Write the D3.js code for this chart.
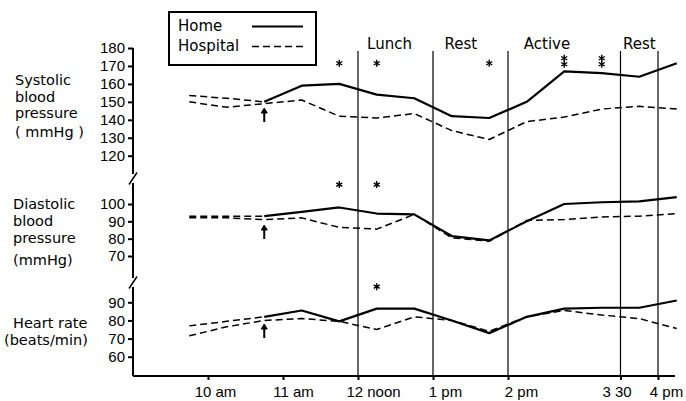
<!DOCTYPE html>
<html>
<head>
<meta charset="utf-8">
<script src="https://cdn.jsdelivr.net/npm/d3@7"></script>
<style>
  body { margin: 0; background: #fff; }
  svg { display: block; }
  text { font-family: "DejaVu Sans", sans-serif; font-size: 15px; fill: #000; }
  .num { font-family: "Liberation Sans", Arial, sans-serif; font-size: 15px; }
  .title { font-size: 14.5px; }
</style>
</head>
<body>
<div id="chart"></div>
<script>
// time of day in hours, readings every half hour
var times = [9.75, 10.25, 10.75, 11.25, 11.75, 12.25, 12.75, 13.25, 13.75, 14.25, 14.75, 15.25, 15.75, 16.25];

// systolic (mmHg)
var sysHospital = [150, 147, 149, 151, 142, 141, 143.5, 134, 129, 139, 141.5, 146, 147.5, 146];
var sysHome = [null, null, 150, 159, 160, 154, 152, 142, 141, 150, 167, 166, 164, 171.5];
var sysHomeBefore = [153.5, 152, 150, null, null, null, null, null, null, null, null, null, null, null];

// diastolic (mmHg)
var diaHospital = [92, 92, 91, 92, 86.5, 85.5, 94, 80.5, 78.5, 90.5, 91, 92.5, 93, 94.5];
var diaHome = [null, null, 93, 95.5, 98, 94.5, 94, 81.5, 79, 90, 100, 101, 101.5, 104];
var diaHomeBefore = [93, 93, 93, null, null, null, null, null, null, null, null, null, null, null];

// heart rate (beats/min)
var hrHospital = [71.5, 76.5, 80, 81, 79.5, 75, 82, 80, 74, 82, 85.5, 83, 81, 75.5];
var hrHome = [null, null, 82, 85.5, 79.5, 86.5, 86.5, 80, 73, 82, 86.5, 87, 87, 91];
var hrHomeBefore = [77, 79.5, 82, null, null, null, null, null, null, null, null, null, null, null];

// asterisks: time and count
var sysStars = [[11.75, 1], [12.25, 1], [13.75, 1], [14.75, 2], [15.25, 2]];
var diaStars = [[11.75, 1], [12.25, 1]];
var hrStars = [[12.25, 1]];

var arrowTime = 10.75;

var xTicks = [10, 11, 12, 13, 14, 15.5, 16];
var xTickLabels = ["10 am", "11 am", "12 noon", "1 pm", "2 pm", "3 30", "4 pm"];
var dividers = [12, 13, 14, 15.5, 16];
var phases = ["Lunch", "Rest", "Active", "Rest"];
var phaseCentres = [12.42, 13.37, 14.52, 15.75];

var sysTicks = [120, 130, 140, 150, 160, 170, 180];
var diaTicks = [70, 80, 90, 100];
var hrTicks = [60, 70, 80, 90];

var W = 686, H = 401;
var axisX = 133, axisY = 376;
// hand lettered x labels sit a little off their ticks
var labelNudge = [7, 10, 15, 12, 13, -4, 8];

var svg = d3.select("#chart").append("svg")
	.attr("width", W)
	.attr("height", H);

var x = d3.scaleLinear().domain([10, 16]).range([208, 658]);

var ySys = d3.scaleLinear().domain([120, 180]).range([155.7, 48]);
var yDia = d3.scaleLinear().domain([70, 100]).range([256, 204]);
var yHr = d3.scaleLinear().domain([60, 90]).range([356.7, 302.3]);

// vertical phase lines
svg.append("g")
	.selectAll("line")
	.data(dividers)
	.enter()
	.append("line")
	.attr("x1", function(d) { return x(d); })
	.attr("x2", function(d) { return x(d); })
	.attr("y1", 51)
	.attr("y2", axisY)
	.attr("stroke", "#000")
	.attr("stroke-width", 1.2);

svg.append("g")
	.selectAll("text")
	.data(phases)
	.enter()
	.append("text")
	.attr("x", function(d, i) { return x(phaseCentres[i]); })
	.attr("y", 49)
	.attr("text-anchor", "middle")
	.text(function(d) { return d; });

// y axes, one per panel
function yAxis(scale, ticks) {
	var g = svg.append("g")
		.attr("transform", "translate(" + axisX + ",0)")
		.call(d3.axisLeft(scale).tickValues(ticks).tickSize(5).tickPadding(3).tickFormat(d3.format("d")));
	g.select(".domain").remove();
	g.selectAll(".tick line").attr("stroke-width", 2);
	g.selectAll(".tick text").attr("class", "num");
	g.attr("font-family", null).attr("font-size", null);
}
yAxis(ySys, sysTicks);
yAxis(yDia, diaTicks);
yAxis(yHr, hrTicks);

// broken y axis line
var segs = [[48, 174], [183, 278], [287, axisY]];
svg.append("g")
	.selectAll("line")
	.data(segs)
	.enter()
	.append("line")
	.attr("x1", axisX).attr("x2", axisX)
	.attr("y1", function(d) { return d[0]; })
	.attr("y2", function(d) { return d[1]; })
	.attr("stroke", "#000")
	.attr("stroke-width", 2);

var breaks = [178.5, 282.5];
svg.append("g")
	.selectAll("line")
	.data(breaks)
	.enter()
	.append("line")
	.attr("x1", axisX - 4).attr("x2", axisX + 4)
	.attr("y1", function(d) { return d + 6; })
	.attr("y2", function(d) { return d - 6; })
	.attr("stroke", "#000")
	.attr("stroke-width", 1.5);

// x axis
var xg = svg.append("g")
	.attr("transform", "translate(0," + axisY + ")")
	.call(d3.axisBottom(x).tickValues(xTicks).tickSize(4).tickPadding(6)
		.tickFormat(function(d, i) { return xTickLabels[i]; }));
xg.attr("font-family", null).attr("font-size", null);
xg.select(".domain").remove();
xg.selectAll(".tick line").attr("stroke-width", 2);
xg.selectAll(".tick text")
	.attr("class", "num")
	.attr("dx", function(d, i) { return labelNudge[i]; });
xg.append("line")
	.attr("x1", axisX).attr("x2", 675)
	.attr("y1", 0).attr("y2", 0)
	.attr("stroke", "#000")
	.attr("stroke-width", 2);

// series
function series(values, scale, dashed, width) {
	var line = d3.line()
		.defined(function(d) { return d != null; })
		.x(function(d, i) { return x(times[i]); })
		.y(function(d) { return scale(d); });
	svg.append("path")
		.datum(values)
		.attr("d", line)
		.attr("fill", "none")
		.attr("stroke", "#000")
		.attr("stroke-width", width)
		.attr("stroke-dasharray", dashed ? "7,4" : null)
		.attr("stroke-linejoin", "round");
}

series(sysHospital, ySys, true, 1.5);
series(sysHomeBefore, ySys, true, 1.5);
series(sysHome, ySys, false, 2.2);
series(diaHospital, yDia, true, 1.5);
series(diaHomeBefore, yDia, true, 1.5);
series(diaHome, yDia, false, 2.2);
series(hrHospital, yHr, true, 1.5);
series(hrHomeBefore, yHr, true, 1.5);
series(hrHome, yHr, false, 2.2);

// arrows under the 10:45 reading
function arrow(yTip) {
	var ax = x(arrowTime);
	svg.append("line")
		.attr("x1", ax).attr("x2", ax)
		.attr("y1", yTip + 2).attr("y2", yTip + 14)
		.attr("stroke", "#000").attr("stroke-width", 2);
	svg.append("path")
		.attr("d", "M" + (ax - 3) + "," + (yTip + 5) + "L" + ax + "," + yTip + "L" + (ax + 3) + "," + (yTip + 5) + "Z")
		.attr("fill", "#000").attr("stroke", "#000");
}
arrow(108);
arrow(225);
arrow(324);

// asterisks
function star(cx, cy) {
	var r = 3.5, p = "";
	for (var k = 0; k < 3; k++) {
		var a = Math.PI / 2 + k * Math.PI / 3;
		p += "M" + (cx - r * Math.cos(a)) + "," + (cy - r * Math.sin(a)) + "L" + (cx + r * Math.cos(a)) + "," + (cy + r * Math.sin(a));
	}
	svg.append("path").attr("d", p).attr("stroke", "#000").attr("stroke-width", 1.4);
}
function stars(list, yPix) {
	list.forEach(function(s) {
		if (s[1] == 1) star(x(s[0]), yPix);
		else { star(x(s[0]), yPix - 5); star(x(s[0]), yPix + 1); }
	});
}
stars(sysStars, ySys(171.5));
stars(diaStars, yDia(111.2));
stars(hrStars, yHr(98.6));

// panel titles, one text element each with a tspan per line
var titles = [
	{ lines: ["Systolic", "blood", "pressure", "( mmHg )"], x: [15, 15, 15, 15], y: [85, 101.5, 118, 137] },
	{ lines: ["Diastolic", "blood", "pressure", "(mmHg)"], x: [13, 13, 13, 13], y: [209, 226, 243, 265] },
	{ lines: ["Heart rate", "(beats/min)"], x: [13, 4], y: [328, 345] }
];
titles.forEach(function(t) {
	var tx = svg.append("text").attr("class", "title");
	t.lines.forEach(function(s, i) {
		tx.append("tspan")
			.attr("x", t.x[i])
			.attr("y", t.y[i])
			.text(s);
	});
});

// legend
var lg = svg.append("g");
lg.append("rect")
	.attr("x", 169).attr("y", 12)
	.attr("width", 147).attr("height", 53)
	.attr("fill", "#fff")
	.attr("stroke", "#000")
	.attr("stroke-width", 2);
lg.append("text").attr("x", 178).attr("y", 31).text("Home");
lg.append("text").attr("x", 178).attr("y", 51).text("Hospital");
lg.append("line").attr("x1", 252).attr("x2", 303).attr("y1", 26.5).attr("y2", 26.5)
	.attr("stroke", "#000").attr("stroke-width", 2);
lg.append("line").attr("x1", 252).attr("x2", 304).attr("y1", 46.5).attr("y2", 46.5)
	.attr("stroke", "#000").attr("stroke-width", 1.5).attr("stroke-dasharray", "7,4");
</script>
</body>
</html>
